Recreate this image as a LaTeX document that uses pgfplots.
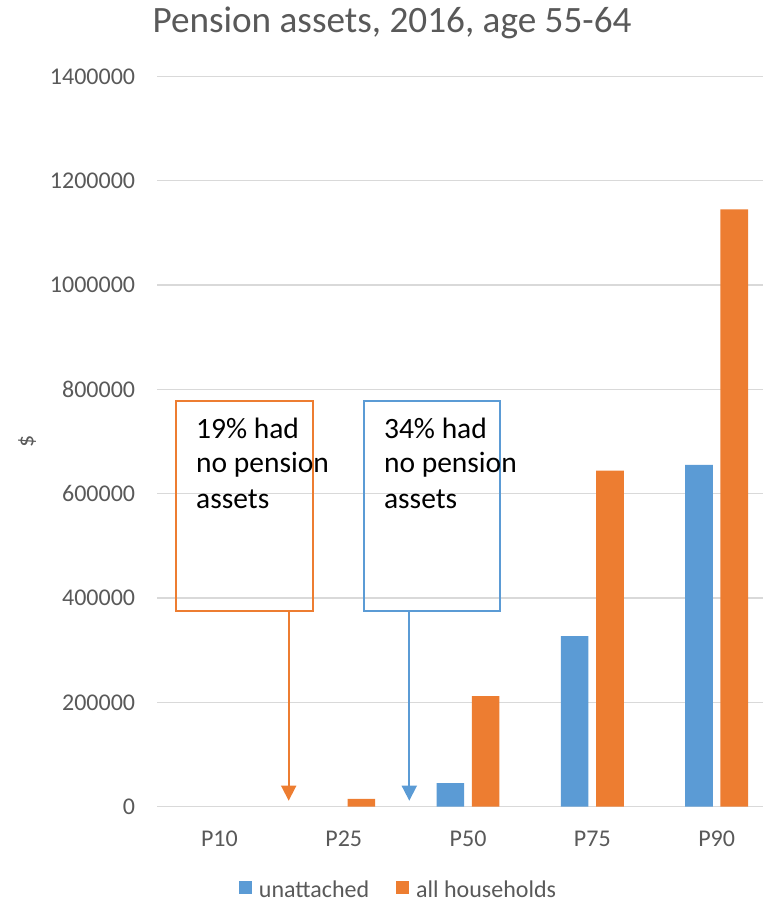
\documentclass[border=0pt]{standalone}
\usepackage{pgfplots}
\pgfplotsset{compat=1.18}
\usetikzlibrary{arrows.meta}
\usepackage{fontspec}
\setmainfont{Carlito}

\definecolor{sblue}{HTML}{5B9BD5}
\definecolor{sorange}{HTML}{ED7D31}
\definecolor{tgray}{HTML}{595959}
\definecolor{ggray}{HTML}{D9D9D9}

% percentile values, in dollars
\pgfplotstableread{
x  unattached  allhh
0  0           0
1  0           15000
2  45000       212000
3  327000      644000
4  655000      1145000
}\pension

\begin{document}
\begin{tikzpicture}
\useasboundingbox (0,0) rectangle (763pt,903pt);
\begin{axis}[
  at={(157.3pt,96.3pt)}, anchor=south west,
  scale only axis, width=605.7pt, height=730.4pt,
  xmin=-0.5, xmax=4.373, ymin=0, ymax=1400000,
  clip=false,
  ybar=7.7pt, bar width=27.6pt,
  % zero-height bars are left out
  y filter/.expression={y==0 ? nan : y},
  axis line style={draw=none},
  tick style={draw=none},
  ymajorgrids, major grid style={ggray, line width=1.5pt},
  xtick={0,1,2,3,4}, xticklabels={P10,P25,P50,P75,P90},
  ytick={0,200000,400000,600000,800000,1000000,1200000,1400000},
  yticklabels={0,200000,400000,600000,800000,1000000,1200000,1400000},
  scaled y ticks=false,
  ticklabel style={font=\fontsize{24}{29}\selectfont, text=tgray},
  yticklabel style={inner sep=0pt, anchor=east, xshift=-22pt},
  xticklabel style={inner sep=0pt, anchor=north, yshift=-20pt},
  ylabel={\$},
  ylabel style={at={(axis description cs:-0.2151,0.5)}, anchor=center,
    font=\fontsize{24}{29}\selectfont, text=tgray},
  title={Pension assets, 2016, age 55-64},
  title style={at={(axis description cs:0.3875,1.0521)}, anchor=base,
    yshift=0pt, inner sep=0pt, font=\fontsize{37.2}{44}\selectfont, text=tgray},
  legend columns=2,
  legend style={at={(axis description cs:0.3983,-0.1142)}, anchor=center,
    draw=none, fill=none, font=\fontsize{24}{29}\selectfont, text=tgray,
    /tikz/every odd column/.append style={column sep=5pt},
    /tikz/every even column/.append style={column sep=25pt}},
  legend image code/.code={\fill[#1] (0pt,-4pt) rectangle (13pt,9pt);},
]
\addplot[fill=sblue, draw=none] table[x=x, y=unattached] {\pension};
\addplot[fill=sorange, draw=none] table[x=x, y=allhh] {\pension};
\legend{unattached, all households}

% call-out boxes with arrows
\draw[sorange, line width=1.75pt] (axis cs:-0.3496,375700) rectangle (axis cs:0.750,778100);
\draw[sorange, line width=1.75pt, -{Triangle[width=15pt,length=15pt]}]
  (axis cs:0.5571,375700) -- (axis cs:0.5571,11500);
\draw[sblue, line width=1.75pt] (axis cs:1.1605,375700) rectangle (axis cs:2.2594,778100);
\draw[sblue, line width=1.75pt, -{Triangle[width=15pt,length=15pt]}]
  (axis cs:1.5274,375700) -- (axis cs:1.5274,11500);

\begin{scope}[every node/.style={anchor=base west, inner sep=0pt,
    font=\fontsize{29.5}{36}\selectfont, text=black}]
\node at (axis cs:-0.1888,706200) {19\% had};
\node at (axis cs:-0.1888,639700) {no pension};
\node at (axis cs:-0.1888,572000) {assets};
\node at (axis cs:1.3229,706200) {34\% had};
\node at (axis cs:1.3229,639700) {no pension};
\node at (axis cs:1.3229,572000) {assets};
\end{scope}
\end{axis}
\end{tikzpicture}
\end{document}
